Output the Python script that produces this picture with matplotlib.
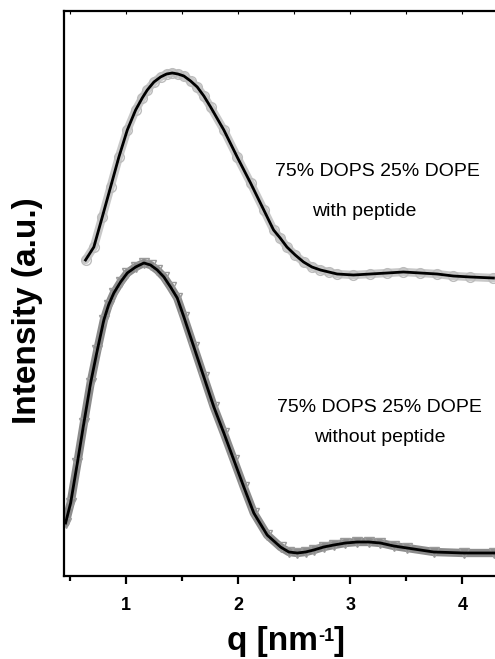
import matplotlib
matplotlib.use("Agg")
import matplotlib.pyplot as plt
from matplotlib.ticker import MultipleLocator

plt.rcParams['font.family'] = ['Liberation Sans', 'DejaVu Sans']

# SAXS curves, 75% DOPS / 25% DOPE vesicles (intensity in a.u., offset for display)
q_with = [0.642, 0.716, 0.791, 0.865, 0.939, 1.014, 1.088, 1.147, 1.192, 1.251,
          1.310, 1.364, 1.415, 1.465, 1.518, 1.578, 1.637, 1.696, 1.756, 1.874,
          1.993, 2.112, 2.230, 2.317, 2.376, 2.436, 2.510, 2.584, 2.659, 2.735,
          2.809, 2.884, 3.029, 3.180, 3.329, 3.474, 3.626, 3.774, 3.919, 4.071, 4.276]
I_with = [316, 329, 359, 389, 419, 446, 466, 478, 486, 494,
          499, 502, 503, 502, 500, 495, 489, 480, 469, 446,
          419, 393, 366, 346, 338, 329, 321, 314, 309, 306,
          304, 302, 301, 302, 303, 304, 303, 302, 300, 299, 298]

q_without = [0.464, 0.509, 0.569, 0.627, 0.687, 0.747, 0.805, 0.847, 0.894, 0.954,
             1.014, 1.088, 1.162, 1.221, 1.281, 1.340, 1.399, 1.459, 1.518, 1.607,
             1.696, 1.785, 1.874, 1.963, 2.052, 2.141, 2.260, 2.379, 2.453, 2.528,
             2.602, 2.675, 2.764, 2.854, 2.958, 3.062, 3.166, 3.269, 3.388, 3.507,
             3.744, 4.011, 4.278]
I_without = [53, 73, 113, 153, 193, 226, 256, 271, 283, 294,
             303, 309, 313, 311, 306, 299, 289, 278, 259, 229,
             199, 169, 143, 116, 89, 63, 41, 29, 24, 23,
             24, 26, 29, 31, 33, 34, 34, 33, 30, 28,
             24, 23, 23]

fig = plt.figure(figsize=(4.95, 6.59), dpi=100)
ax = fig.add_axes([64/495, 83/659, 431/495, 565/659])

# measured data (wide grey bands of open markers) and fits (black)
ax.plot(q_with, I_with, color='#c8c8c8', lw=6, solid_capstyle='round',
        solid_joinstyle='round', zorder=1)
ax.plot(q_with, I_with, ls='none', marker='o', ms=7, mfc='none', mec='#bcbcbc',
        mew=1, zorder=2)
ax.plot(q_with, I_with, color='black', lw=2, solid_joinstyle='round', zorder=3)

ax.plot(q_without, I_without, color='#8c8c8c', lw=6, solid_capstyle='round',
        solid_joinstyle='round', zorder=1)
ax.plot(q_without, I_without, ls='none', marker='v', ms=7, mfc='none', mec='#9a9a9a',
        mew=1, zorder=2)
ax.plot(q_without, I_without, color='black', lw=2, solid_joinstyle='round', zorder=3)

ax.text(3.243, 404, '75% DOPS 25% DOPE', fontsize=14, ha='center', va='center')
ax.text(3.127, 364, 'with peptide', fontsize=14, ha='center', va='center')
ax.text(3.26, 169, '75% DOPS 25% DOPE', fontsize=14, ha='center', va='center')
ax.text(3.26, 138, 'without peptide', fontsize=14, ha='center', va='center')

ax.set_xlim(0.45, 4.29)
ax.set_ylim(0, 565)

ax.xaxis.set_major_locator(MultipleLocator(1))
ax.xaxis.set_minor_locator(MultipleLocator(0.5))
ax.tick_params(axis='x', which='major', direction='out', length=6, width=1.6,
               labelsize=13, pad=9)
ax.tick_params(axis='x', which='minor', direction='out', length=3.5, width=1.6)
for lab in ax.get_xticklabels():
    lab.set_fontweight('bold')
ax.set_yticks([])

for side in ['left', 'bottom', 'top']:
    ax.spines[side].set_linewidth(1.6)
ax.spines['right'].set_visible(False)

# tiny inward ticks on the top spine
sec = ax.secondary_xaxis('top')
sec.xaxis.set_major_locator(MultipleLocator(0.5))
sec.tick_params(direction='in', length=2, width=0.8, labeltop=False)
sec.spines['top'].set_visible(False)

# x label with a small superscript, built from three pieces
t1 = fig.text(227/495, 1 - 650/659, 'q [nm', fontsize=24, fontweight='bold',
              ha='left', va='baseline')
t2 = plt.annotate('-1', xy=(1, 0.93), xycoords=t1, fontsize=13, fontweight='bold',
                  ha='left', va='top')
t3 = plt.annotate(']', xy=(1, 0), xycoords=(t2, t1), fontsize=24, fontweight='bold',
                  ha='left', va='bottom')
fig.text(28/495, 1 - 311/659, 'Intensity (a.u.)', fontsize=24, fontweight='bold',
         rotation=90, ha='center', va='center')

fig.savefig('out.png', dpi=100)
